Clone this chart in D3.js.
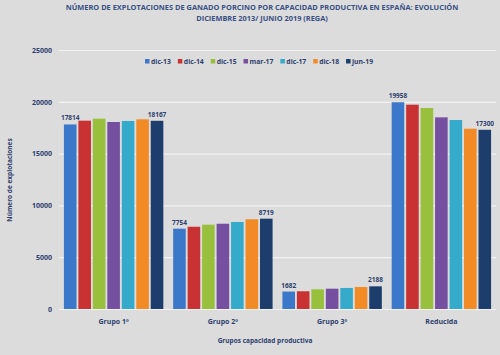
<!DOCTYPE html>
<html><head><meta charset="utf-8">
<script src="https://cdn.jsdelivr.net/npm/d3@7"></script>
<style>
html,body{margin:0;padding:0;background:#dcdcdc;}
svg{display:block;font-family:"Open Sans","DejaVu Sans",sans-serif;}
</style></head><body>
<svg id="c" width="500" height="355"></svg>
<script>
const categories = ["Grupo 1º","Grupo 2º","Grupo 3º","Reducida"];
const seriesNames = ["dic-13","dic-14","dic-15","mar-17","dic-17","dic-18","jun-19"];
const seriesColors = ["#3b78c9","#c83232","#98c03c","#7650a0","#35aacb","#f28a26","#1d3e6c"];
const values = {
  "dic-13": [17814, 7754, 1682, 19958],
  "dic-14": [18180, 7940, 1710, 19720],
  "dic-15": [18370, 8140, 1900, 19400],
  "mar-17": [18050, 8230, 1960, 18500],
  "dic-17": [18150, 8400, 2030, 18240],
  "dic-18": [18310, 8660, 2120, 17400],
  "jun-19": [18167, 8719, 2188, 17300]
};
const yTicks = [0,5000,10000,15000,20000,25000];
const titleLines = ["NÚMERO DE EXPLOTACIONES DE GANADO PORCINO POR CAPACIDAD PRODUCTIVA EN ESPAÑA: EVOLUCIÓN","DICIEMBRE 2013/ JUNIO 2019 (REGA)"];

const svg = d3.select("#c");
const W=500,H=355;
svg.append("rect").attr("width",W).attr("height",H).attr("fill","#dcdcdc");
const L=59,R=496,T=50,B=309;
const textCol="#2e3f6e";

const y = d3.scaleLinear().domain([0,25000]).range([B,T]);
const x0 = d3.scaleBand().domain(categories).range([L,R]).paddingInner(0.09).paddingOuter(0.045);
const x1 = d3.scaleBand().domain(seriesNames).range([0,x0.bandwidth()]).paddingInner(0.13);

// title
svg.append("g").selectAll("text").data(titleLines).join("text")
  .attr("x",262).attr("y",(d,i)=>10+i*11).attr("text-anchor","middle")
  .attr("font-size",7.4).attr("font-weight","bold").attr("fill","#3a4f86").text(d=>d);

// grid
const yAxis = d3.axisLeft(y).tickValues(yTicks).tickSize(-(R-L)).tickFormat(d3.format("d"));
const ga = svg.append("g").attr("transform",`translate(${L},0)`).call(yAxis);
ga.select(".domain").remove();
ga.selectAll(".tick line").attr("stroke","#f2f2f2").attr("stroke-width",1.2);
ga.selectAll(".tick text").attr("x",-7).attr("font-size",7).attr("font-weight","bold").attr("fill",textCol).attr("font-family","Open Sans, sans-serif");

// bars
const groups = svg.append("g").selectAll("g").data(categories).join("g")
  .attr("transform",d=>`translate(${x0(d)},0)`);
groups.selectAll("rect").data((c,ci)=>seriesNames.map((s,si)=>({s,si,v:values[s][ci]}))).join("rect")
  .attr("x",d=>x1(d.s)).attr("width",x1.bandwidth())
  .attr("y",d=>y(d.v)).attr("height",d=>B-y(d.v))
  .attr("fill",d=>seriesColors[d.si]);
groups.selectAll("text.lbl").data((c,ci)=>[0,seriesNames.length-1].map(si=>({s:seriesNames[si],v:values[seriesNames[si]][ci]}))).join("text")
  .attr("class","lbl")
  .attr("x",d=>x1(d.s)+x1.bandwidth()/2).attr("y",d=>y(d.v)-4)
  .attr("text-anchor","middle").attr("font-size",6.5).attr("font-weight","bold").attr("fill",textCol)
  .text(d=>d.v);

// x axis labels
const xAxis = d3.axisBottom(x0).tickSize(0);
const gx = svg.append("g").attr("transform",`translate(0,${B})`).call(xAxis);
gx.select(".domain").remove();
gx.selectAll(".tick text").attr("dy",0).attr("y",15).attr("font-size",7).attr("font-weight","bold").attr("fill",textCol).attr("font-family","Open Sans, sans-serif");

// axis titles
svg.append("text").attr("x",265).attr("y",343).attr("text-anchor","middle")
  .attr("font-size",6.5).attr("font-weight","bold").attr("fill",textCol).text("Grupos capacidad productiva");
svg.append("text").attr("transform","translate(12,180) rotate(-90)").attr("text-anchor","middle")
  .attr("font-size",6.5).attr("font-weight","bold").attr("fill",textCol).text("Número de explotaciones");

// legend
const lg = svg.append("g").attr("transform","translate(145,63)");
let lx=0;
seriesNames.forEach((s,i)=>{
  const g = lg.append("g").attr("transform",`translate(${lx},0)`);
  g.append("rect").attr("x",0).attr("y",-4).attr("width",4.5).attr("height",4.5).attr("fill",seriesColors[i]);
  const t = g.append("text").attr("x",6).attr("y",1).attr("font-size",6.8).attr("font-weight","bold").attr("fill",textCol).text(s);
  lx += 6 + t.node().getComputedTextLength() + 7;
});
</script>
</body></html>
